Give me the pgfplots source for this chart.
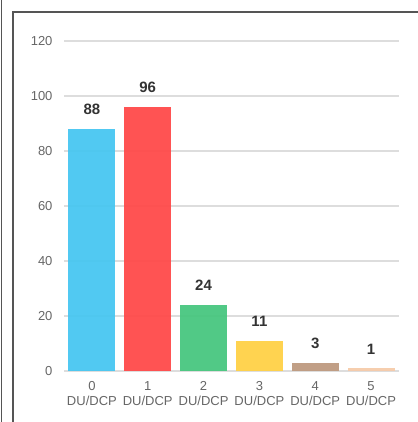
\documentclass[border=0pt]{standalone}
\usepackage{pgfplots}
\pgfplotsset{compat=1.18}
\usepackage{fontspec}
\setmainfont{Liberation Sans}
\definecolor{cBlue}{HTML}{48C6F1}
\definecolor{cRed}{HTML}{FF4A4A}
\definecolor{cGreen}{HTML}{48C67F}
\definecolor{cYellow}{HTML}{FFD147}
\definecolor{cBrown}{HTML}{BE9A80}
\definecolor{cPeach}{HTML}{F6CBAA}
\definecolor{tickgray}{HTML}{666666}
\definecolor{labgray}{HTML}{333333}
\definecolor{gridgray}{HTML}{DDDDDD}
\definecolor{framegray}{HTML}{555555}
\begin{document}
\begin{tikzpicture}[x=1pt,y=1pt]
\useasboundingbox (0,0) rectangle (417,422);
\begin{axis}[
    at={(64pt,51pt)}, anchor=south west,
    scale only axis,
    width=335pt, height=330pt,
    xmin=-0.5, xmax=5.5,
    ymin=0, ymax=120,
    ytick={0,20,...,120},
    xtick={0,...,5},
    xticklabels={{0\\DU/DCP},{1\\DU/DCP},{2\\DU/DCP},{3\\DU/DCP},{4\\DU/DCP},{5\\DU/DCP}},
    axis line style={draw=none},
    major tick length=0pt,
    ymajorgrids=true,
    grid style={line width=1.5pt, color=gridgray},
    /pgf/number format/assume math mode=true,
    yticklabel style={font=\fontsize{13}{15}\selectfont, text=tickgray, xshift=-8pt},
    xticklabel style={font=\fontsize{13}{15}\selectfont, text=tickgray, align=center, yshift=-7pt},
    ybar, bar width=47pt, bar shift=0pt,
    nodes near coords,
    every node near coord/.append style={font=\fontsize{15}{15}\selectfont\bfseries, text=labgray, yshift=10.5pt},
    clip=false,
]
\addplot[fill=cBlue, draw=none, fill opacity=0.95, text opacity=1] coordinates {(0,88)};
\addplot[fill=cRed, draw=none, fill opacity=0.95, text opacity=1] coordinates {(1,96)};
\addplot[fill=cGreen, draw=none, fill opacity=0.95, text opacity=1] coordinates {(2,24)};
\addplot[fill=cYellow, draw=none, fill opacity=0.95, text opacity=1] coordinates {(3,11)};
\addplot[fill=cBrown, draw=none, fill opacity=0.95, text opacity=1] coordinates {(4,3)};
\addplot[fill=cPeach, draw=none, fill opacity=0.95, text opacity=1] coordinates {(5,1)};
\end{axis}
\draw[framegray, line width=1.6pt] (1.5,-5) -- (1.5,427);
\draw[framegray, line width=2pt] (13,-5) -- (13,409.5) -- (425,409.5);
\end{tikzpicture}
\end{document}
